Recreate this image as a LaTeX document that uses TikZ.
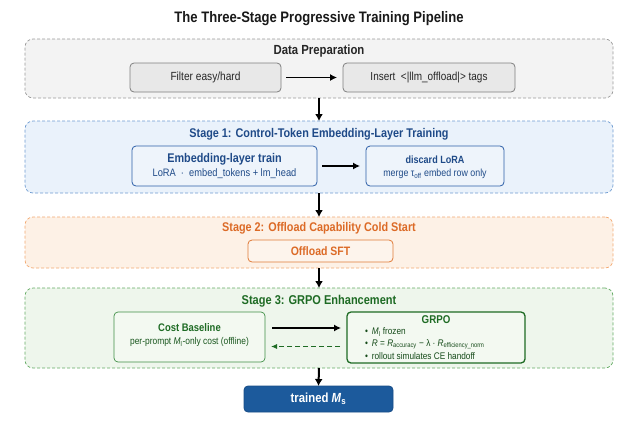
\documentclass[tikz,border=0pt]{standalone}
\usepackage{fontspec}
\setmainfont[FakeStretch=0.86]{Liberation Sans}
\usetikzlibrary{arrows.meta,calc}
\definecolor{grayFill}{HTML}{F3F3F3}
\definecolor{grayLine}{HTML}{9A9A9A}
\definecolor{grayIn}{HTML}{E8E8E8}
\definecolor{grayInLine}{HTML}{7F7F7F}
\definecolor{blueFill}{HTML}{EAF2FB}
\definecolor{blueLine}{HTML}{6E9BD1}
\definecolor{blueIn}{HTML}{EEF4FB}
\definecolor{blueInLine}{HTML}{2B5EA7}
\definecolor{blueText}{HTML}{1F4A88}
\definecolor{orFill}{HTML}{FDF1E6}
\definecolor{orLine}{HTML}{F2A870}
\definecolor{orIn}{HTML}{FDF4EC}
\definecolor{orInLine}{HTML}{E07B39}
\definecolor{orText}{HTML}{DC6A26}
\definecolor{grFill}{HTML}{EEF6EC}
\definecolor{grLine}{HTML}{62AA62}
\definecolor{grIn}{HTML}{F3F9F1}
\definecolor{grInLine}{HTML}{3F8F46}
\definecolor{grText}{HTML}{1E6B24}
\definecolor{trFill}{HTML}{1C5A9C}
\definecolor{trLine}{HTML}{174C86}
\begin{document}
\begin{tikzpicture}[x=1pt,y=-1pt,
  every node/.style={inner sep=0pt, outer sep=0pt},
  fs/.style={font=\fontsize{#1}{#1}\selectfont},
  fb/.style={font=\fontsize{#1}{#1}\selectfont\bfseries},
  stagebox/.style={draw, dash pattern=on 3pt off 2pt, rounded corners=8pt, line width=0.7pt, minimum width=588pt},
  ibox/.style={draw, rounded corners=4pt, line width=0.8pt},
  flow/.style={-{Latex[length=7pt,width=7pt]}, line width=1.2pt},
  downarrow/.style={-{Latex[length=7pt,width=8pt]}, line width=2pt},
]
\useasboundingbox (0,0) rectangle (639,426);

% title
\node[fb=15.2, text=black!90] (title) at (319,19) {The Three-Stage Progressive Training Pipeline};

% Data preparation
\node[stagebox, draw=grayLine, fill=grayFill, minimum height=59pt] (dp) at (319,68.5) {};
\node[fb=13.2, text=black!85] (dpt) at (319,51) {Data Preparation};
\node[ibox, draw=grayInLine, fill=grayIn, minimum width=151pt, minimum height=29pt, fs=11.8, text=black!85] (filter) at (205.5,77.5) {Filter easy/hard};
\node[ibox, draw=grayInLine, fill=grayIn, minimum width=172pt, minimum height=29pt, fs=11.6, text=black!85] (insert) at (429,77.5) {Insert\ \ <|llm\_offload|> tags};
\draw[flow, shorten <=5pt, shorten >=6pt] (filter) -- (insert);

% Stage 1
\node[stagebox, draw=blueLine, fill=blueFill, minimum height=72pt] (s1) at (319,157) {};
\node[fb=12.6, text=blueText] (s1t) at (319,134) {Stage 1: Control-Token Embedding-Layer Training};
\node[ibox, draw=blueInLine, fill=blueIn, minimum width=185pt, minimum height=40pt] (emb) at (224.5,166) {};
\node[fb=12.6, text=blueText] (embt) at (224.5,159) {Embedding-layer train};
\node[fs=10.8, text=blueText] (embs) at (224.5,174) {LoRA\ \ ·\ \ embed\_tokens + lm\_head};
\node[ibox, draw=blueInLine, fill=blueIn, minimum width=138pt, minimum height=40pt] (disc) at (435,166) {};
\node[fb=10.5, text=blueText] (disct) at (435,159.5) {discard LoRA};
\node[fs=10.3, text=blueText] (discs) at (435,174) {merge τ\textsubscript{off} embed row only};
\draw[flow, shorten <=5pt, shorten >=6pt] (emb) -- (disc);

% Stage 2
\node[stagebox, draw=orLine, fill=orFill, minimum height=51pt] (s2) at (319,242.5) {};
\node[fb=12.6, text=orText] (s2t) at (319,228) {Stage 2: Offload Capability Cold Start};
\node[ibox, draw=orInLine, fill=orIn, minimum width=145pt, minimum height=22pt, fb=12.2, text=orText] (sft) at (320.5,251) {Offload SFT};

% Stage 3
\node[stagebox, draw=grLine, fill=grFill, minimum height=80pt] (s3) at (319,328) {};
\node[fb=12.8, text=grText] (s3t) at (319,301) {Stage 3: GRPO Enhancement};
\node[ibox, draw=grInLine, fill=grIn, line width=0.7pt, minimum width=151pt, minimum height=50pt] (cost) at (189.5,337) {};
\node[fb=11, text=grText] (costt) at (189.5,328) {Cost Baseline};
\node[fs=9.8, text=grText!80!black] (costs) at (189.5,342) {per-prompt \textit{M}\textsubscript{l}-only cost (offline)};
\node[ibox, draw=grText, fill=grIn, line width=1.3pt, minimum width=178pt, minimum height=51pt] (grpo) at (436,337.5) {};
\node[fb=11.3, text=grText] (grpot) at (436,320) {GRPO};
\node[fs=9.6, text=grText!70!black, anchor=west] (b1) at (365,332) {•\hspace{4pt}\textit{M}\textsubscript{l} frozen};
\node[fs=9.6, text=grText!70!black, anchor=west] (b2) at (365,344) {•\hspace{4pt}\textit{R} = \textit{R}\textsubscript{accuracy} − λ · \textit{R}\textsubscript{efficiency\_norm}};
\node[fs=9.6, text=grText!70!black, anchor=west] (b3) at (365,356) {•\hspace{4pt}rollout simulates CE handoff};
\draw[flow, shorten <=7pt, shorten >=6pt] ([yshift=9pt]cost.east) -- ([yshift=9pt]cost.east -| grpo.west);
\draw[-{Latex[length=6pt,width=5pt]}, line width=0.9pt, draw=grText, dash pattern=on 5pt off 3pt, shorten <=7pt, shorten >=6pt] ([yshift=-9pt]grpo.west) -- ([yshift=-9pt]grpo.west -| cost.east);

% trained
\node[draw=trLine, fill=trFill, rounded corners=4pt, line width=0.8pt, minimum width=149pt, minimum height=26pt, fb=13.2, text=white] (trained) at (318.5,399) {trained \textit{M}\textsubscript{s}};

% vertical flow
\draw[downarrow] (dp.south) -- (s1.north);
\draw[downarrow] (s1.south) -- (s2.north);
\draw[downarrow] (s2.south) -- (s3.north);
\draw[downarrow] (s3.south) -- (trained.north);
\end{tikzpicture}
\end{document}
